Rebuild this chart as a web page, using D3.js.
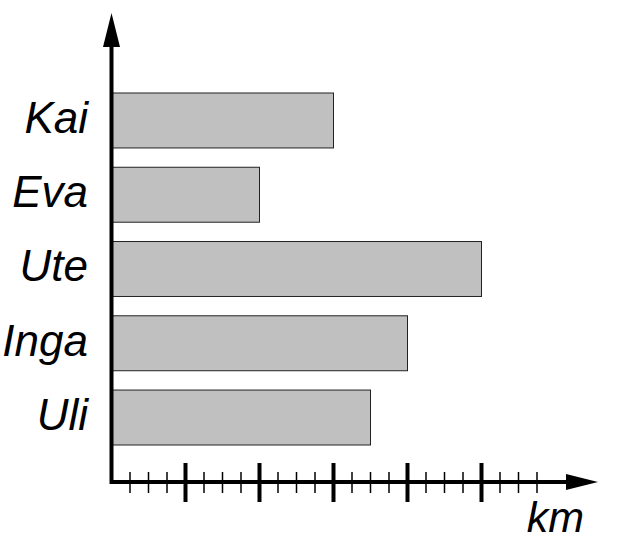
<!DOCTYPE html>
<html>
<head>
<meta charset="utf-8">
<title>km bar chart</title>
<script src="https://cdn.jsdelivr.net/npm/d3@7"></script>
<style>
  body { margin: 0; background: #fff; }
  text { font-family: "Liberation Sans", Arial, sans-serif; font-style: italic; }
</style>
</head>
<body>
<script>
var names = ["Kai", "Eva", "Ute", "Inga", "Uli"];
var distances = [3, 2, 5, 4, 3.5];
var majorTicks = [1, 2, 3, 4, 5];
var minorTicks = d3.range(0.25, 5.76, 0.25).filter(function (t) { return t % 1 !== 0; });
var unitLabel = "km";

var width = 620, height = 560;
var x0 = 111.5, yAxisY = 482;

var svg = d3.select("body").append("svg")
    .attr("width", width)
    .attr("height", height);

var x = d3.scaleLinear().domain([0, 5]).range([x0, 481.5]);
var y = d3.scaleBand().domain(names).range([93, 445]).paddingInner(0.26).paddingOuter(0);

// bars
svg.selectAll("rect.bar")
    .data(names)
    .enter().append("rect")
    .attr("class", "bar")
    .attr("x", x(0))
    .attr("y", function (d) { return y(d); })
    .attr("width", function (d, i) { return x(distances[i]) - x(0); })
    .attr("height", y.bandwidth())
    .attr("fill", "#c0c0c0")
    .attr("stroke", "#222")
    .attr("stroke-width", 1);

// labels
svg.selectAll("text.name")
    .data(names)
    .enter().append("text")
    .attr("class", "name")
    .attr("x", 88)
    .attr("y", function (d) { return y(d) + y.bandwidth() / 2; })
    .attr("dy", "0.28em")
    .attr("text-anchor", "end")
    .attr("font-size", 44)
    .text(function (d) { return d; });

// minor ticks
svg.selectAll("line.minor")
    .data(minorTicks)
    .enter().append("line")
    .attr("class", "minor")
    .attr("x1", function (d) { return x(d); })
    .attr("x2", function (d) { return x(d); })
    .attr("y1", yAxisY - 10)
    .attr("y2", yAxisY + 11)
    .attr("stroke", "#000")
    .attr("stroke-width", 1.5);

// major ticks
svg.selectAll("line.major")
    .data(majorTicks)
    .enter().append("line")
    .attr("class", "major")
    .attr("x1", function (d) { return x(d); })
    .attr("x2", function (d) { return x(d); })
    .attr("y1", yAxisY - 19)
    .attr("y2", yAxisY + 20)
    .attr("stroke", "#000")
    .attr("stroke-width", 4);

// axes
svg.append("line")
    .attr("x1", x0).attr("y1", yAxisY)
    .attr("x2", 570).attr("y2", yAxisY)
    .attr("stroke", "#000").attr("stroke-width", 4);

svg.append("line")
    .attr("x1", x0).attr("y1", yAxisY + 2)
    .attr("x2", x0).attr("y2", 44)
    .attr("stroke", "#000").attr("stroke-width", 4);

// arrow heads
svg.append("path")
    .attr("d", "M598," + yAxisY + " L566," + (yAxisY - 8) + " L566," + (yAxisY + 8) + " Z")
    .attr("fill", "#000");

svg.append("path")
    .attr("d", "M" + x0 + ",13 L" + (x0 - 8.5) + ",47 L" + (x0 + 8.5) + ",47 Z")
    .attr("fill", "#000");

svg.append("text")
    .attr("x", 584)
    .attr("y", 532)
    .attr("text-anchor", "end")
    .attr("font-size", 43)
    .text(unitLabel);
</script>
</body>
</html>
